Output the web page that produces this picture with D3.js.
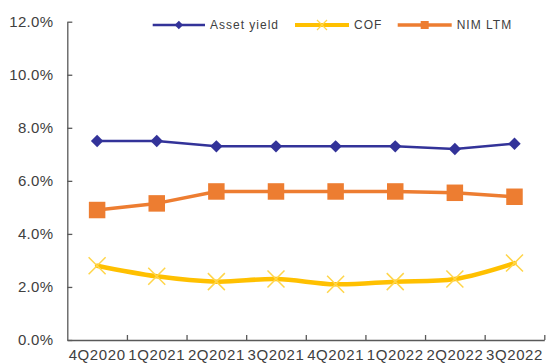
<!DOCTYPE html>
<html>
<head>
<meta charset="utf-8">
<script src="https://cdn.jsdelivr.net/npm/d3@7"></script>
<style>
  html, body { margin: 0; padding: 0; background: #fff; }
  svg { display: block; }
  text { font-family: "Liberation Sans", Arial, sans-serif; fill: #404040; }
</style>
</head>
<body>
<svg id="chart" width="549" height="363"></svg>
<script>
// ---- data ----
const categories = ["4Q2020", "1Q2021", "2Q2021", "3Q2021", "4Q2021", "1Q2022", "2Q2022", "3Q2022"];
const assetYield = [7.5, 7.5, 7.3, 7.3, 7.3, 7.3, 7.2, 7.4];
const cof = [2.8, 2.4, 2.2, 2.3, 2.1, 2.2, 2.3, 2.9];
const nimLtm = [4.9, 5.15, 5.6, 5.6, 5.6, 5.6, 5.55, 5.4];
const yTicks = [0, 2, 4, 6, 8, 10, 12];
const seriesNames = ["Asset yield", "COF", "NIM LTM"];

// ---- layout ----
const W = 549, H = 363;
const margin = { left: 67.3, right: 4.7, top: 21.7, bottom: 23 };
const svg = d3.select("#chart");

const x = d3.scaleBand().domain(categories).range([margin.left, W - margin.right]).padding(0);
const xEdge = d3.scaleLinear().domain([0, categories.length]).range([margin.left, W - margin.right]);
const y = d3.scaleLinear().domain([0, 12]).range([H - margin.bottom, margin.top]);
const cx = d => x(d) + x.bandwidth() / 2;

const axisColor = "#595959";

// y axis
const yAxis = svg.append("g")
  .attr("transform", `translate(${margin.left},0)`)
  .call(d3.axisLeft(y).tickValues(yTicks).tickSize(-5).tickSizeOuter(0).tickPadding(14)
        .tickFormat(d => d.toFixed(1) + "%"));
yAxis.select(".domain").attr("stroke", axisColor).attr("stroke-width", 1.3);
yAxis.selectAll(".tick line").attr("stroke", axisColor).attr("stroke-width", 1.3);
yAxis.selectAll(".tick text").style("font-size", "15px").style("letter-spacing", "0.3px").attr("fill", "#404040");

// x axis: tick marks at category edges (pointing up)
const xTickAxis = svg.append("g")
  .attr("transform", `translate(0,${H - margin.bottom})`)
  .call(d3.axisBottom(xEdge).tickValues(d3.range(1, categories.length + 1)).tickSize(-5).tickSizeOuter(0).tickFormat(""));
xTickAxis.select(".domain").attr("stroke", axisColor).attr("stroke-width", 1.3);
xTickAxis.selectAll(".tick line").attr("stroke", axisColor).attr("stroke-width", 1.3);

// x labels
const xLab = svg.append("g")
  .attr("transform", `translate(0,${H - margin.bottom})`)
  .call(d3.axisBottom(x).tickSize(0).tickPadding(9));
xLab.select(".domain").remove();
xLab.selectAll(".tick text").style("font-size", "15px").style("letter-spacing", "0.6px").attr("fill", "#404040");

// ---- series ----
const navy = "#333399", orange = "#ED7D31", gold = "#FFC000", goldLight = "#FFD54A";

function toPts(arr) { return arr.map((v, i) => [cx(categories[i]), y(v)]); }

// COF (smoothed)
svg.append("path")
  .attr("d", d3.line().curve(d3.curveCatmullRom.alpha(0.5))(toPts(cof)))
  .attr("fill", "none").attr("stroke", gold).attr("stroke-width", 4.5)
  .attr("stroke-linejoin", "round").attr("stroke-linecap", "round");

// NIM LTM
svg.append("path")
  .attr("d", d3.line()(toPts(nimLtm)))
  .attr("fill", "none").attr("stroke", orange).attr("stroke-width", 3.5)
  .attr("stroke-linejoin", "round");

// Asset yield
svg.append("path")
  .attr("d", d3.line()(toPts(assetYield)))
  .attr("fill", "none").attr("stroke", navy).attr("stroke-width", 2.5)
  .attr("stroke-linejoin", "round");

// markers
const xMark = (g, px, py, r, w) => {
  g.append("path")
    .attr("d", `M${px - r},${py - r}L${px + r},${py + r}M${px - r},${py + r}L${px + r},${py - r}`)
    .attr("stroke", goldLight).attr("stroke-width", w).attr("fill", "none");
};
const gCof = svg.append("g");
toPts(cof).forEach(p => xMark(gCof, p[0], p[1], 8.5, 1.5));

svg.append("g").selectAll("path").data(toPts(nimLtm)).join("path")
  .attr("d", d3.symbol().type(d3.symbolSquare).size(16.5 * 16.5))
  .attr("transform", p => `translate(${p[0]},${p[1]})`)
  .attr("fill", orange);

svg.append("g").selectAll("path").data(toPts(assetYield)).join("path")
  .attr("d", d3.symbol().type(d3.symbolSquare).size(8.8 * 8.8))
  .attr("transform", p => `translate(${p[0]},${p[1]}) rotate(45)`)
  .attr("fill", navy);

// ---- legend ----
const legY = 25;
const legend = svg.append("g");
const legItems = [
  { name: seriesNames[0], x0: 152.7, x1: 205, tx: 210, color: navy, w: 2.5, mark: "diamond" },
  { name: seriesNames[1], x0: 295, x1: 349, tx: 354, color: gold, w: 4, mark: "x" },
  { name: seriesNames[2], x0: 397.7, x1: 451.7, tx: 456.7, color: orange, w: 3.5, mark: "square" }
];
legItems.forEach(it => {
  legend.append("line").attr("x1", it.x0).attr("x2", it.x1).attr("y1", legY).attr("y2", legY)
    .attr("stroke", it.color).attr("stroke-width", it.w);
  const mx = (it.x0 + it.x1) / 2;
  if (it.mark === "diamond") {
    legend.append("path").attr("d", d3.symbol().type(d3.symbolSquare).size(36))
      .attr("transform", `translate(${mx},${legY}) rotate(45)`).attr("fill", it.color);
  } else if (it.mark === "square") {
    legend.append("path").attr("d", d3.symbol().type(d3.symbolSquare).size(64))
      .attr("transform", `translate(${mx},${legY})`).attr("fill", it.color);
  } else {
    xMark(legend, mx, legY, 5, 1.2);
  }
  legend.append("text").attr("x", it.tx).attr("y", legY).attr("dy", "0.35em")
    .style("font-size", "12px").style("letter-spacing", "1px").text(it.name);
});
</script>
</body>
</html>
